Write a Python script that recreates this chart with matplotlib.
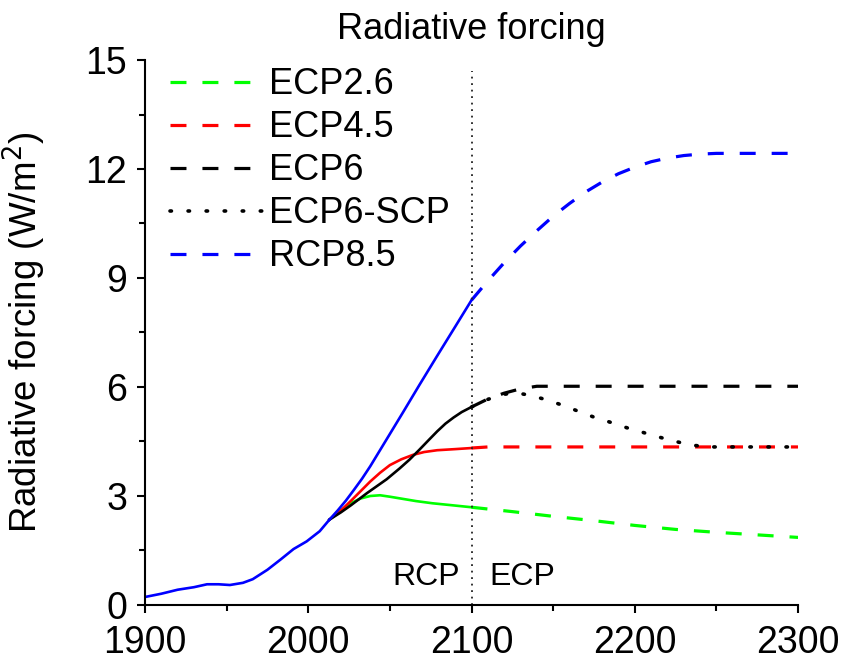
import matplotlib
matplotlib.use('Agg')
import matplotlib.pyplot as plt
from matplotlib.ticker import MultipleLocator

plt.rcParams['font.family'] = ['Liberation Sans', 'DejaVu Sans']

# historical forcing (shared by all scenarios)
hist_years = [1900, 1910, 1920, 1930, 1938, 1945, 1952, 1960, 1966, 1975, 1983, 1991, 1999, 2007, 2013]
hist_vals = [0.22, 0.31, 0.42, 0.49, 0.57, 0.57, 0.55, 0.61, 0.71, 0.97, 1.25, 1.54, 1.75, 2.03, 2.35]

# RCP period (solid), 2013-2100
rcp26_years = [2013, 2020, 2026, 2032, 2038, 2044, 2050, 2058, 2066, 2076, 2087, 2100]
rcp26_vals = [2.35, 2.60, 2.80, 2.93, 3.00, 3.02, 2.98, 2.92, 2.86, 2.80, 2.75, 2.69]
rcp45_years = [2013, 2020, 2026, 2032, 2038, 2044, 2050, 2057, 2064, 2071, 2079, 2090, 2100]
rcp45_vals = [2.35, 2.60, 2.86, 3.13, 3.40, 3.64, 3.85, 4.01, 4.13, 4.21, 4.26, 4.29, 4.32]
rcp6_years = [2013, 2020, 2026, 2036, 2048, 2056, 2062, 2068, 2074, 2079, 2084, 2089, 2094, 2100]
rcp6_vals = [2.35, 2.55, 2.74, 3.08, 3.46, 3.76, 4.00, 4.27, 4.55, 4.78, 4.99, 5.16, 5.31, 5.45]
rcp85_years = [2013, 2018, 2023, 2028, 2033, 2038, 2048, 2058, 2068, 2079, 2090, 2100]
rcp85_vals = [2.35, 2.60, 2.87, 3.17, 3.48, 3.82, 4.56, 5.30, 6.05, 6.86, 7.66, 8.39]

# ECP period (dashed / dotted), 2100-2300
ecp26_years = [2100, 2125, 2150, 2175, 2200, 2225, 2250, 2275, 2300]
ecp26_vals = [2.69, 2.57, 2.44, 2.32, 2.19, 2.08, 2.00, 1.93, 1.86]
ecp45_years = [2100, 2110, 2300]
ecp45_vals = [4.32, 4.35, 4.35]
ecp6_years = [2100, 2110, 2120, 2130, 2140, 2300]
ecp6_vals = [5.45, 5.67, 5.83, 5.95, 6.02, 6.02]
scp_years = [2100, 2110, 2120, 2127, 2135, 2145, 2155, 2165, 2175, 2185, 2195, 2205, 2215, 2225, 2235, 2245, 2300]
scp_vals = [5.45, 5.66, 5.80, 5.84, 5.78, 5.66, 5.51, 5.34, 5.17, 5.03, 4.88, 4.75, 4.62, 4.50, 4.40, 4.35, 4.35]
ecp85_years = [2100, 2110, 2120, 2130, 2140, 2150, 2160, 2170, 2180, 2190, 2200, 2210, 2220, 2230, 2240, 2250, 2300]
ecp85_vals = [8.39, 8.92, 9.42, 9.88, 10.30, 10.70, 11.05, 11.37, 11.64, 11.87, 12.05, 12.20, 12.30, 12.37, 12.41, 12.43, 12.43]

labels = ['ECP2.6', 'ECP4.5', 'ECP6', 'ECP6-SCP', 'RCP8.5']

fig = plt.figure(figsize=(8.46, 6.63), dpi=100)
ax = fig.add_axes([0.1714, 0.0875, 0.7719, 0.822])

dash = (0, (5, 5))
lw_s = 1.9
lw_d = 2.3

# solid RCP part
ax.plot(rcp26_years, rcp26_vals, color='#00ff00', lw=lw_s)
ax.plot(rcp45_years, rcp45_vals, color='#ff0000', lw=lw_s)
ax.plot(rcp6_years, rcp6_vals, color='black', lw=lw_s)
ax.plot(rcp85_years, rcp85_vals, color='#0000ff', lw=lw_s)
ax.plot(hist_years, hist_vals, color='#0000ff', lw=lw_s)

# ECP part
l1, = ax.plot(ecp26_years, ecp26_vals, color='#00ff00', lw=lw_d, ls=dash)
l2, = ax.plot(ecp45_years, ecp45_vals, color='#ff0000', lw=lw_d, ls=dash)
l3, = ax.plot(ecp6_years, ecp6_vals, color='black', lw=lw_d, ls=dash)
l4, = ax.plot(scp_years, scp_vals, color='black', lw=2.6, ls=(0, (0.4, 4.6)),
              dash_capstyle='round', zorder=4)
l5, = ax.plot(ecp85_years, ecp85_vals, color='#0000ff', lw=lw_d, ls=dash)

# RCP / ECP boundary
ax.plot([2100, 2100], [0, 14.7], color='#222222', lw=1.3, ls=(0, (1.0, 2.6)))
ax.text(2093, 0.78, 'RCP', ha='right', va='center', fontsize=23)
ax.text(2111, 0.78, 'ECP', ha='left', va='center', fontsize=23)

ax.set_xlim(1900, 2300)
ax.set_ylim(0, 15)
ax.xaxis.set_major_locator(MultipleLocator(100))
ax.xaxis.set_minor_locator(MultipleLocator(50))
ax.yaxis.set_major_locator(MultipleLocator(3))
ax.yaxis.set_minor_locator(MultipleLocator(1.5))
ax.tick_params(which='major', length=6, width=1.5, labelsize=27)
ax.tick_params(axis='x', which='major', pad=8.5)
ax.tick_params(axis='y', which='major', pad=7)
ax.tick_params(which='minor', length=4, width=1.5)
for s in ['top', 'right']:
    ax.spines[s].set_visible(False)
for s in ['left', 'bottom']:
    ax.spines[s].set_linewidth(1.5)

ax.set_ylabel('Radiative forcing (W/m$^2$)', fontsize=26.5, labelpad=27)
ax.set_title('Radiative forcing', fontsize=26, pad=15)

ax.legend([l1, l2, l3, l4, l5], labels, loc='upper left', frameon=False,
          fontsize=26, handlelength=2.6, handletextpad=0.15,
          labelspacing=0.22, borderaxespad=0.0, borderpad=0.1,
          bbox_to_anchor=(0.032, 0.993))

fig.savefig('out.png', dpi=100)
